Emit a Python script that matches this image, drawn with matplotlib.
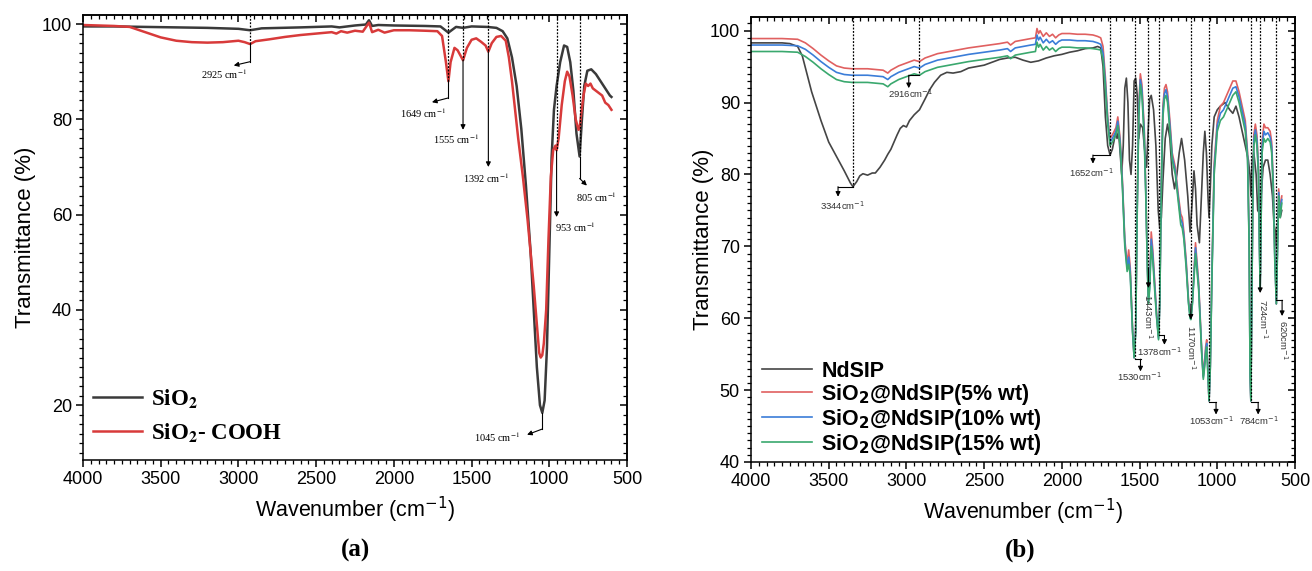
import numpy as np
import matplotlib
matplotlib.use("Agg")
import matplotlib.pyplot as plt
from matplotlib.ticker import MultipleLocator

# ---- panel (a): SiO2 and SiO2-COOH ----
sio2_wn = [4000, 3800, 3600, 3400, 3200, 3000, 2925, 2850, 2600, 2400,
           2350, 2250, 2180, 2160, 2140, 2100, 2000, 1800, 1700, 1649,
           1600, 1555, 1500, 1400, 1340, 1300, 1270, 1240, 1210, 1180,
           1150, 1120, 1100, 1080, 1060, 1045, 1030, 1015, 1000, 985,
           970, 953, 930, 905, 885, 865, 845, 825, 805, 790,
           775, 755, 730, 700, 670, 640, 610, 600]
sio2_T = [99.5, 99.5, 99.4, 99.3, 99.2, 99.0, 98.7, 99.1, 99.3, 99.5,
          99.3, 99.7, 99.9, 100.8, 99.6, 99.8, 99.7, 99.6, 99.5, 98.2,
          99.4, 99.2, 99.5, 99.4, 99.2, 98.5, 97.0, 93.0, 87.0, 78.0,
          66.0, 52.0, 40.0, 28.0, 20.0, 18.4, 21.0, 32.0, 52.0, 72.0,
          82.0, 87.0, 92.0, 95.5, 95.2, 92.0, 86.0, 77.0, 72.2, 80.0,
          87.0, 90.2, 90.5, 89.5, 88.0, 86.5, 85.0, 84.7]

cooh_wn = [4000, 3800, 3700, 3600, 3500, 3400, 3300, 3200, 3100, 3000,
           2960, 2925, 2890, 2800, 2700, 2600, 2500, 2400, 2370, 2340,
           2300, 2250, 2200, 2160, 2140, 2100, 2060, 2000, 1900, 1800,
           1720, 1690, 1665, 1649, 1635, 1610, 1590, 1555, 1530, 1500,
           1470, 1440, 1410, 1392, 1370, 1340, 1310, 1280, 1260, 1240,
           1220, 1200, 1170, 1140, 1120, 1100, 1080, 1065, 1055, 1045,
           1035, 1020, 1005, 990, 975, 960, 953, 940, 920, 900,
           885, 870, 850, 830, 812, 805, 795, 780, 765, 750,
           735, 720, 700, 680, 660, 640, 620, 600]
cooh_T = [99.8, 99.6, 99.4, 98.3, 97.2, 96.5, 96.2, 96.1, 96.2, 96.5,
          96.2, 95.8, 96.4, 96.8, 97.3, 97.7, 98.0, 98.3, 98.0, 98.5,
          98.2, 98.6, 98.4, 100.3, 98.3, 98.8, 98.2, 98.7, 98.7, 98.6,
          98.5, 97.5, 92.0, 88.0, 92.0, 95.0, 94.5, 92.4, 95.0, 96.7,
          97.0, 96.3, 95.5, 94.2, 96.0, 97.3, 97.5, 96.5, 93.0, 88.0,
          82.0, 76.0, 68.0, 59.0, 52.0, 45.0, 37.0, 31.0, 30.0, 30.5,
          33.0, 40.0, 55.0, 68.0, 73.5, 74.5, 73.5, 76.0, 83.0, 88.0,
          90.0, 89.0, 85.0, 80.0, 77.8, 78.0, 81.0, 85.0, 87.5, 87.0,
          87.5, 86.5, 86.0, 85.5, 85.0, 83.5, 83.0, 82.0]

# ---- panel (b): NdSIP and SiO2@NdSIP loadings ----
nd_wn = [4000, 3800, 3750, 3700, 3670, 3640, 3610, 3580, 3550, 3500,
         3450, 3400, 3360, 3344, 3320, 3300, 3280, 3250, 3220, 3200,
         3170, 3140, 3120, 3100, 3080, 3060, 3040, 3020, 3000, 2980,
         2950, 2916, 2880, 2850, 2820, 2780, 2740, 2700, 2650, 2600,
         2550, 2500, 2450, 2400, 2350, 2300, 2250, 2200, 2150, 2100,
         2050, 2000, 1950, 1900, 1850, 1800, 1770, 1750, 1735, 1720,
         1705, 1690, 1675, 1652, 1645, 1635, 1625, 1615, 1605, 1595,
         1585, 1575, 1565, 1555, 1545, 1535, 1525, 1515, 1505, 1495,
         1480, 1470, 1455, 1445, 1435, 1425, 1410, 1395, 1380, 1370,
         1360, 1350, 1335, 1320, 1305, 1290, 1275, 1260, 1245, 1230,
         1210, 1190, 1175, 1165, 1150, 1140, 1130, 1115, 1100, 1090,
         1080, 1070, 1060, 1053, 1045, 1035, 1020, 1000, 980, 950,
         920, 900, 880, 860, 840, 820, 800, 790, 784, 775,
         765, 750, 740, 735, 725, 715, 705, 690, 675, 660,
         645, 635, 625, 620, 612, 605, 595, 585]
nd_T = [98.3, 98.3, 98.2, 97.8, 96.5, 94.0, 91.5, 89.5, 87.5, 84.5,
        82.5, 80.5, 78.8, 78.3, 79.0, 79.8, 80.1, 79.9, 80.2, 80.2,
        81.0, 82.0, 82.8, 83.5, 84.5, 85.5, 86.4, 86.8, 86.6, 87.5,
        88.3, 89.0, 90.5, 91.8, 92.8, 93.8, 94.2, 94.1, 94.3, 94.8,
        95.0, 95.2, 95.6, 96.0, 96.2, 96.3, 95.9, 95.6, 95.8, 96.2,
        96.5, 96.7, 97.0, 97.2, 97.5, 97.6, 97.8, 97.6, 95.0, 88.0,
        84.0, 82.7, 83.5, 86.0, 85.0, 86.0, 83.0, 80.0, 84.0, 92.0,
        93.4, 90.0, 82.0, 80.0, 84.0, 93.0, 93.4, 91.0, 85.0, 87.0,
        86.5, 84.0, 81.0, 86.0, 90.5, 91.0, 89.0, 84.0, 75.0, 72.5,
        74.0, 79.0, 85.0, 87.0, 85.0, 80.0, 78.0, 80.0, 83.0, 85.0,
        82.0, 77.0, 72.0, 75.0, 80.5, 78.0, 73.0, 70.5, 78.0, 83.0,
        86.0, 83.0, 77.0, 74.0, 78.0, 84.0, 88.0, 89.0, 89.5, 90.0,
        89.0, 88.5, 89.5, 88.0, 86.0, 84.0, 82.0, 80.0, 77.0, 82.0,
        83.0, 80.0, 75.0, 74.8, 75.0, 78.0, 81.0, 82.0, 82.0, 80.0,
        77.0, 73.0, 72.0, 70.0, 73.0, 76.0, 74.0, 75.0]

# shared wavenumber grid of the three composite spectra
comp_wn = [4000, 3800, 3700, 3650, 3600, 3550, 3500, 3450,
           3400, 3350, 3300, 3250, 3200, 3150, 3120, 3100,
           3050, 3000, 2950, 2916, 2880, 2800, 2700, 2600,
           2500, 2400, 2350, 2330, 2300, 2250, 2200, 2170,
           2160, 2150, 2140, 2120, 2100, 2080, 2060, 2040,
           2020, 2000, 1950, 1900, 1850, 1800, 1770, 1750,
           1735, 1720, 1705, 1690, 1675, 1652, 1640,
           1625, 1610, 1595, 1580, 1570, 1560, 1545,
           1535, 1525, 1515, 1505, 1495, 1485, 1470,
           1460, 1450, 1443, 1435, 1425, 1415, 1400,
           1390, 1378, 1370, 1360, 1350, 1340, 1330,
           1320, 1305, 1290, 1270, 1250, 1235, 1225,
           1215, 1200, 1185, 1175, 1170, 1160, 1150,
           1140, 1120, 1100, 1090, 1080, 1075, 1068,
           1060, 1053, 1045, 1035, 1020, 1000, 980,
           960, 940, 920, 900, 880, 860, 840,
           820, 805, 795, 789, 784, 779, 772,
           765, 755, 745, 735, 729, 724, 719,
           712, 700, 690, 675, 660, 650, 640,
           630, 620, 612, 605, 595, 585]
wt5_T = [98.9, 98.9, 98.8, 98.3, 97.5, 96.6, 95.8, 95.1,
         94.8, 94.7, 94.7, 94.7, 94.6, 94.5, 94.1, 94.5,
         95.1, 95.5, 95.9, 95.7, 96.2, 96.8, 97.2, 97.6,
         97.9, 98.2, 98.4, 98.0, 98.5, 98.7, 98.9, 99.0,
         100.3, 99.6, 100.0, 99.2, 99.7, 99.2, 99.5, 99.0,
         99.4, 99.6, 99.6, 99.5, 99.5, 99.4, 99.2, 99.0,
         97.8, 93.5, 88.0, 85.0, 85.5, 86.5, 88.0,
         85.0, 79.0, 71.0, 67.5, 69.5, 67.0, 58.5,
         54.5, 58.5, 76.0, 89.5, 94.0, 92.5, 86.5,
         78.0, 68.0, 62.5, 65.0, 72.0, 69.5, 64.0,
         60.5, 57.5, 62.5, 79.0, 89.5, 92.0, 92.5,
         91.5, 87.5, 83.0, 81.0, 77.0, 74.5, 74.0,
         72.0, 68.0, 62.5, 60.5, 60.0, 62.5, 66.5,
         70.5, 65.0, 55.5, 52.0, 54.5, 56.0, 57.0,
         52.5, 48.5, 53.5, 66.0, 81.5, 87.5, 89.5,
         90.0, 91.0, 92.0, 93.0, 93.0, 91.5, 89.5,
         87.5, 83.0, 71.0, 52.5, 48.5, 60.5, 76.0,
         85.5, 87.0, 85.5, 81.0, 71.0, 64.5, 73.0,
         84.5, 87.0, 86.5, 86.5, 86.0, 84.5, 79.0,
         69.0, 62.0, 71.0, 78.0, 75.0, 77.0]
wt10_T = [98.0, 98.0, 97.9, 97.4, 96.6, 95.7, 94.9, 94.2,
          93.9, 93.8, 93.8, 93.8, 93.7, 93.6, 93.2, 93.6,
          94.2, 94.6, 95.0, 94.8, 95.3, 95.9, 96.3, 96.7,
          97.0, 97.3, 97.5, 97.1, 97.6, 97.8, 98.0, 98.1,
          99.4, 98.7, 99.1, 98.3, 98.8, 98.3, 98.6, 98.1,
          98.5, 98.7, 98.7, 98.6, 98.6, 98.5, 98.3, 98.1,
          96.9, 92.8, 87.5, 84.5, 85.0, 86.0, 87.4,
          84.5, 78.5, 70.5, 67.0, 68.5, 66.5, 58.2,
          54.5, 58.2, 75.5, 88.8, 93.2, 91.8, 85.8,
          77.5, 67.5, 62.2, 64.5, 71.0, 68.8, 63.5,
          60.2, 57.2, 62.2, 78.5, 88.8, 91.2, 91.8,
          90.8, 86.8, 82.5, 80.5, 76.5, 73.8, 73.2,
          71.5, 67.5, 62.2, 60.2, 59.9, 62.2, 66.0,
          69.8, 64.5, 55.2, 51.8, 54.0, 55.5, 56.5,
          52.2, 48.5, 53.2, 65.5, 80.8, 86.8, 88.5,
          89.0, 90.0, 91.0, 92.0, 92.2, 90.8, 88.8,
          86.8, 82.5, 70.5, 52.2, 48.5, 60.2, 75.5,
          84.8, 86.2, 84.8, 80.5, 70.5, 64.2, 72.5,
          83.8, 86.0, 85.5, 85.8, 85.2, 83.8, 78.5,
          68.5, 62.0, 70.5, 77.5, 74.5, 76.5]
wt15_T = [97.1, 97.1, 97.0, 96.4, 95.6, 94.7, 93.9, 93.2,
          92.9, 92.8, 92.8, 92.8, 92.7, 92.6, 92.2, 92.6,
          93.2, 93.6, 94.0, 93.8, 94.3, 94.9, 95.3, 95.7,
          96.0, 96.3, 96.5, 96.1, 96.6, 96.8, 97.0, 97.1,
          98.4, 97.7, 98.1, 97.3, 97.8, 97.3, 97.6, 97.1,
          97.5, 97.7, 97.7, 97.6, 97.6, 97.5, 97.4, 97.3,
          96.0, 92.0, 87.0, 84.0, 84.5, 85.5, 86.8,
          84.0, 78.0, 70.0, 66.5, 67.5, 66.0, 58.0,
          54.5, 58.0, 75.0, 88.0, 92.5, 91.0, 85.0,
          77.0, 67.0, 62.0, 64.0, 70.0, 68.0, 63.0,
          60.0, 57.0, 62.0, 78.0, 88.0, 90.5, 91.0,
          90.0, 86.0, 82.0, 80.0, 76.0, 73.0, 72.5,
          71.0, 67.0, 62.0, 60.0, 59.8, 62.0, 65.5,
          69.0, 64.0, 55.0, 51.5, 53.5, 55.0, 56.0,
          52.0, 48.5, 53.0, 65.0, 80.0, 86.0, 87.5,
          88.0, 89.0, 90.0, 91.0, 91.5, 90.0, 88.0,
          86.0, 82.0, 70.0, 52.0, 48.5, 60.0, 75.0,
          84.0, 85.5, 84.0, 80.0, 70.0, 64.0, 72.0,
          83.0, 85.0, 84.5, 85.0, 84.5, 83.0, 78.0,
          68.0, 62.0, 70.0, 77.0, 74.0, 76.0]

SANS = "Liberation Sans"
SERIF = "Liberation Serif"
plt.rcParams["font.family"] = [SANS, "DejaVu Sans"]
plt.rcParams["axes.linewidth"] = 1.1

W, H = 1312, 571
fig = plt.figure(figsize=(W / 100, H / 100), dpi=100)
ax_a = fig.add_axes([83 / W, (H - 460) / H, (627 - 83) / W, (460 - 15) / H])
ax_b = fig.add_axes([751 / W, (H - 462) / H, (1295 - 751) / W, (462 - 17) / H])


def style_axes(ax, ylim, ymaj, ymin, ypad):
    ax.set_xlim(4000, 500)
    ax.set_ylim(*ylim)
    ax.xaxis.set_major_locator(MultipleLocator(500))
    ax.xaxis.set_minor_locator(MultipleLocator(50))
    ax.yaxis.set_major_locator(MultipleLocator(ymaj))
    ax.yaxis.set_minor_locator(MultipleLocator(ymin))
    ax.tick_params(which="major", direction="out", length=5, width=1.1,
                   labelsize=13, pad=3)
    ax.tick_params(which="minor", direction="out", length=3, width=0.9)
    # mirrored ticks on top / right point inwards
    top = ax.secondary_xaxis("top")
    top.xaxis.set_major_locator(MultipleLocator(500))
    top.xaxis.set_minor_locator(MultipleLocator(50))
    top.tick_params(which="major", direction="in", length=5, width=1.1, labeltop=False)
    top.tick_params(which="minor", direction="in", length=3, width=0.9)
    right = ax.secondary_yaxis("right")
    right.yaxis.set_major_locator(MultipleLocator(ymaj))
    right.yaxis.set_minor_locator(MultipleLocator(ymin))
    right.tick_params(which="major", direction="in", length=5, width=1.1, labelright=False)
    right.tick_params(which="minor", direction="in", length=3, width=0.9)
    ax.set_xlabel("Wavenumber (cm$^{-1}$)", fontsize=15.5, labelpad=5)
    ax.set_ylabel("Transmittance (%)", fontsize=16, labelpad=ypad)


def mark(ax, wn, peak, path, label, lxy, top=None, rot=0, ha="center", va="center",
         fs=7.5, family=SERIF, mfam="stix", tcolor="k"):
    # dotted guide from the top frame down to the band, then solid arrow
    if top is not None:
        ax.plot([wn, wn], [top, peak], color="k", lw=0.9, ls=(0, (1.5, 1.2)), zorder=5)
    pts = [(wn, peak)] + path
    if len(pts) > 2:
        xs, ys = zip(*pts[:-1])
        ax.plot(xs, ys, color="k", lw=0.8, zorder=5)
    ax.annotate("", xy=pts[-1], xytext=pts[-2],
                arrowprops=dict(arrowstyle="-|>", color="k", lw=0.8,
                                mutation_scale=7, shrinkA=0, shrinkB=0), zorder=5)
    t = ax.text(lxy[0], lxy[1], label, ha=ha, va=va, rotation=rot, fontsize=fs,
                family=family, color=tcolor, zorder=6)
    t.set_math_fontfamily(mfam)


# ---------------- panel (a) ----------------
ya = (8.5, 101.9)
style_axes(ax_a, ya, 20, 2, 4)
ax_a.plot(sio2_wn, sio2_T, color="#3a3a3a", lw=1.8, label="SiO$_\\mathbf{2}$")
ax_a.plot(cooh_wn, cooh_T, color="#d83a3a", lw=1.8, label="SiO$_\\mathbf{2}$- COOH")

cm = " cm$^{-1}$"
mark(ax_a, 2925, 95.8, [(2925, 92.1), (3030, 91.3)], "2925" + cm, (3090, 89.4), top=ya[1])
mark(ax_a, 1649, 88.0, [(1649, 84.5), (1755, 83.6)], "1649" + cm, (1810, 81.2), top=ya[1])
mark(ax_a, 1555, 92.4, [(1555, 77.8)], "1555" + cm, (1598, 75.8), top=ya[1])
mark(ax_a, 1392, 94.2, [(1392, 70.0)], "1392" + cm, (1407, 67.6), top=ya[1])
mark(ax_a, 953, 73.5, [(953, 59.5)], "953" + cm, (962, 57.4), top=ya[1], ha="left")
mark(ax_a, 805, 72.2, [(805, 67.6), (758, 66.1)], "805" + cm, (700, 63.6), top=ya[1])
mark(ax_a, 1045, 18.4, [(1045, 15.0), (1143, 13.8)], "1045" + cm, (1334, 13.2))

leg_a = ax_a.legend(loc="lower left", bbox_to_anchor=(10 / 544, 0.035), frameon=False,
                    borderpad=0, borderaxespad=0,
                    handlelength=2.15, handletextpad=0.4, labelspacing=0.5,
                    prop=dict(family=SERIF, weight="bold", size=16.5))
for t in leg_a.get_texts():
    t.set_math_fontfamily("stix")

# ---------------- panel (b) ----------------
yb = (40, 101.9)
style_axes(ax_b, yb, 10, 1, -3)
ax_b.plot(nd_wn, nd_T, color="#454545", lw=1.2, label="NdSIP")
ax_b.plot(comp_wn, wt5_T, color="#e06060", lw=1.2, label="SiO$_\\mathbf{2}$@NdSIP(5% wt)")
ax_b.plot(comp_wn, wt10_T, color="#3b7dd8", lw=1.2, label="SiO$_\\mathbf{2}$@NdSIP(10% wt)")
ax_b.plot(comp_wn, wt15_T, color="#3aa86e", lw=1.2, label="SiO$_\\mathbf{2}$@NdSIP(15% wt)")

kb = dict(top=yb[1], fs=6.8, family=SANS, mfam="dejavusans", tcolor="#333333")
cb = "cm$^{-1}$"
mark(ax_b, 3344, 78.3, [(3440, 78.3), (3440, 76.9)], "3344" + cb, (3414, 75.7), **kb)
mark(ax_b, 2916, 93.8, [(2985, 93.8), (2985, 92.0)], "2916" + cb, (2976, 91.2), **kb)
mark(ax_b, 1690, 82.7, [(1800, 82.7), (1800, 81.5)], "1652" + cb, (1810, 80.3), **kb)
mark(ax_b, 1530, 54.3, [(1494, 54.3), (1494, 52.6)], "1530" + cb, (1500, 51.9), **kb)
mark(ax_b, 1443, 67.0, [(1443, 64.2)], "1443" + cb, (1443, 63.3), rot=270, va="top", **kb)
mark(ax_b, 1378, 57.6, [(1340, 57.6), (1340, 56.3)], "1378" + cb, (1370, 55.3), **kb)
mark(ax_b, 1170, 62.0, [(1170, 59.8)], "1170" + cb, (1170, 59.0), rot=270, va="top", **kb)
mark(ax_b, 1053, 48.3, [(1008, 48.3), (1008, 46.6)], "1053" + cb, (1040, 45.7), **kb)
mark(ax_b, 784, 48.3, [(737, 48.3), (737, 46.6)], "784" + cb, (735, 45.7), **kb)
mark(ax_b, 724, 66.0, [(724, 63.5)], "724" + cb, (703, 62.7), rot=270, va="top", **kb)
mark(ax_b, 620, 62.5, [(583, 62.5), (583, 60.3)], "620" + cb, (573, 59.7), rot=270, va="top", **kb)

leg_b = ax_b.legend(loc="lower left", bbox_to_anchor=(11 / 544, 0.012), frameon=False,
                    borderpad=0, borderaxespad=0,
                    handlelength=2.3, handletextpad=0.45, labelspacing=0.0,
                    prop=dict(family=SANS, weight="bold", size=15.5))
for t in leg_b.get_texts():
    t.set_math_fontfamily("dejavusans")

fig.text(355 / W, 1 - 550 / H, "(a)", ha="center", va="center", fontsize=18,
         family=SERIF, weight="bold")
fig.text(1020 / W, 1 - 550 / H, "(b)", ha="center", va="center", fontsize=18,
         family=SERIF, weight="bold")

fig.savefig("out.png", dpi=100)
